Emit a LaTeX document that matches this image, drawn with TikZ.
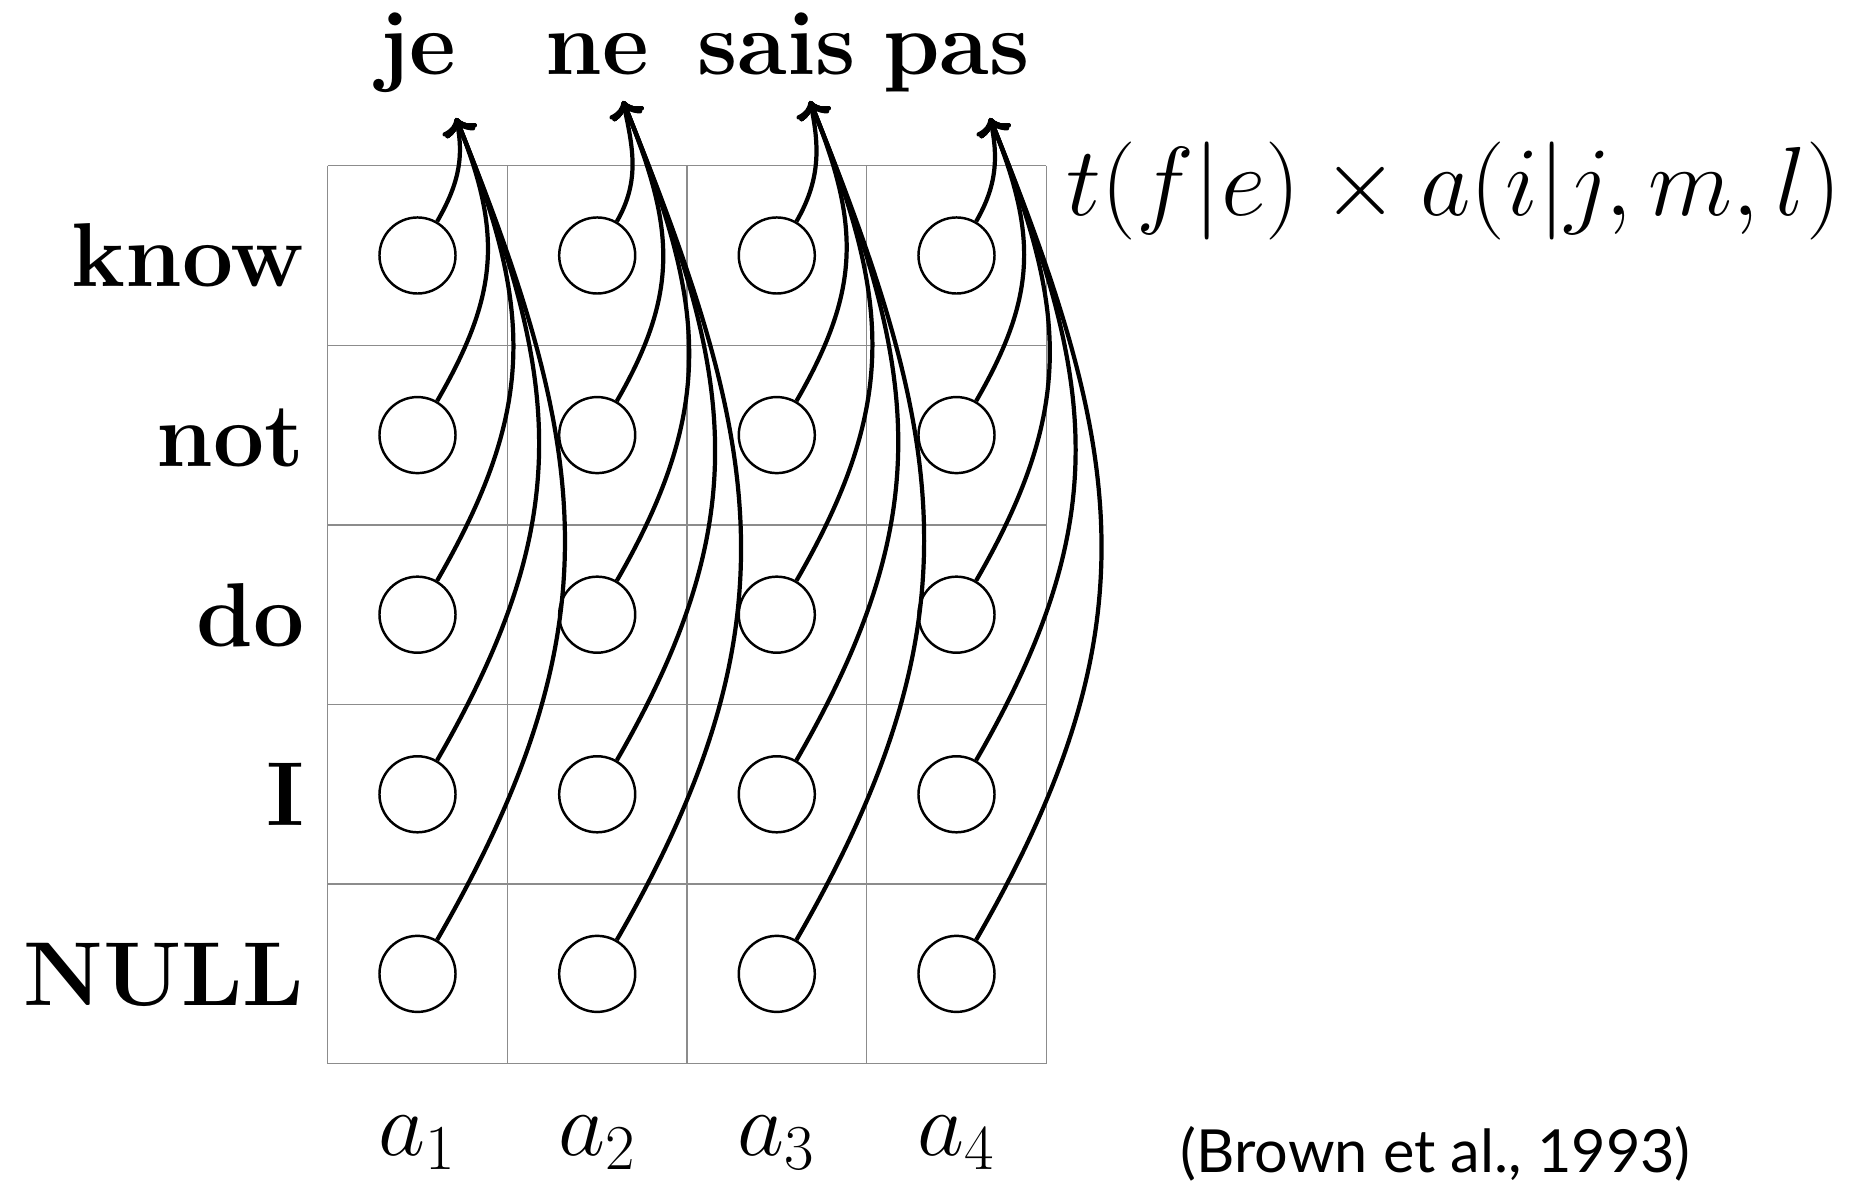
\documentclass[tikz,border=0pt]{standalone}
\usepackage{fix-cm}
\usepackage{fontspec}
\newfontfamily\citefont{Lato}
\usetikzlibrary{arrows.meta}
\definecolor{gridgray}{RGB}{140,140,140}
\tikzset{
  gridline/.style={draw=gridgray, line width=0.4pt},
  dot/.style={circle, draw=black, line width=0.7pt, minimum size=0.76cm, inner sep=0pt},
  link/.style={draw=black, line width=1.2pt, -{To[length=4.5pt,width=9.5pt]}},
  wordlab/.style={inner sep=0pt, font=\fontsize{25.8}{31}\selectfont\bfseries},
  collab/.style={inner sep=0pt, font=\fontsize{26}{31}\selectfont},
  formlab/.style={inner sep=0pt, font=\fontsize{27.9}{33}\selectfont},
  citelab/.style={inner sep=0pt, font=\fontsize{16.9}{21}\selectfont\citefont}
}
\begin{document}
\begin{tikzpicture}[x=0.01cm, y=-0.01cm]
\useasboundingbox (0,0) rectangle (1871,1183);
% grid
\foreach \gx in {327.7, 507.35, 687.0, 866.65, 1046.3}
  \draw[gridline] (\gx,165.7) -- (\gx,1063.7);
\foreach \gy in {165.7, 345.3, 524.9, 704.5, 884.1, 1063.7}
  \draw[gridline] (327.7,\gy) -- (1046.3,\gy);
% circles
\foreach \j/\x in {1/417.5, 2/597.2, 3/776.8, 4/956.5}{
  \foreach \i/\y in {1/255.5, 2/435.1, 3/614.7, 4/794.3, 5/973.9}{
    \node[dot] (c\i\j) at (\x,\y) {};
  }
}
% arrow tips
\coordinate (t1) at (456,118);
\coordinate (t2) at (623,101);
\coordinate (t3) at (810,101);
\coordinate (t4) at (990,118);
% connectors
\foreach \j in {1,2,3,4}{
  \foreach \i/\a/\l in {1/-78/1, 2/-68/1.12, 3/-68/1.12, 4/-68/1.12, 5/-68/1.12}{
    \draw[link] (c\i\j) to[out=60, in=\a, looseness=\l] (t\j);
  }
}
% French words
\node[wordlab, anchor=base] (fje) at (417.5,75) {je};
\node[wordlab, anchor=base] (fne) at (597.2,75) {ne};
\node[wordlab, anchor=base] (fsais) at (776.8,75) {sais};
\node[wordlab, anchor=base] (fpas) at (956.5,75) {pas};
% English words
\node[wordlab, anchor=base east] (eknow) at (305,287) {know};
\node[wordlab, anchor=base east] (enot) at (305,466.6) {not};
\node[wordlab, anchor=base east] (edo) at (305,646.2) {do};
\node[wordlab, anchor=base east] (eI) at (305,825.8) {I};
\node[wordlab, anchor=base east] (eNULL) at (305,1005.4) {NULL};
% alignment variables
\node[collab, anchor=base] (a1) at (417.5,1156) {$a_1$};
\node[collab, anchor=base] (a2) at (597.2,1156) {$a_2$};
\node[collab, anchor=base] (a3) at (776.8,1156) {$a_3$};
\node[collab, anchor=base] (a4) at (956.5,1156) {$a_4$};
% formula
\node[formlab, anchor=base west] (form) at (1066,216) {$t(f|e)\times a(i|j,m,l)$};
% citation
\node[citelab, anchor=base west] (cite) at (1180,1173) {(Brown et al., 1993)};
\end{tikzpicture}
\end{document}
